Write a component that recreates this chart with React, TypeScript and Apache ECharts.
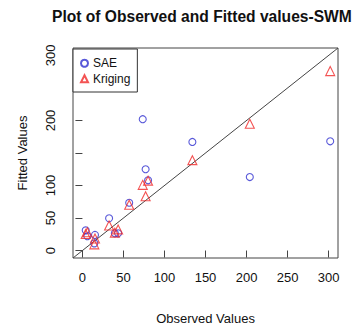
import React, { useEffect, useRef } from "react";
import * as echarts from "echarts";

const observed = [302, 204, 134, 73.5, 77, 80, 57, 32.5, 4, 6, 15.3, 14.5, 39.5, 43.5];
const saeFitted = [168, 113, 167, 202, 125, 108, 73.5, 49.5, 31, 22, 24, 11, 26.5, 26.5];
const krigingFitted = [276, 195, 139, 101, 83.5, 107.5, 70.5, 38.5, 25.5, 28, 18.5, 9.5, 27.5, 32.5];
const tickValues = [0, 50, 100, 150, 200, 250, 300];
const xLabelValues = [0, 50, 100, 150, 200, 250, 300];
const yLabelValues = [0, 50, 100, 200, 300];
const axisMin = -11.5;
const axisMax = 311.5;

const FONT = "Liberation Sans, Arial, sans-serif";

export default function App() {
  const ref = useRef<HTMLDivElement>(null);
  useEffect(() => {
    if (!ref.current) return;
    const chart = echarts.init(ref.current, null, { renderer: "svg" });
    const sae = observed.map((x, i) => [x, saeFitted[i]]);
    const krig = observed.map((x, i) => [x, krigingFitted[i]]);
    chart.setOption({
      animation: false,
      backgroundColor: "#ffffff",
      textStyle: { fontFamily: FONT },
      title: {
        text: "Plot of Observed and Fitted values-SWM",
        left: 52,
        top: 8,
        padding: 0,
        textStyle: { fontFamily: FONT, fontSize: 15.6, fontWeight: "bold", color: "#111" },
      },
      legend: {
        orient: "vertical",
        left: 73,
        top: 49,
        padding: [8, 7, 7, 7],
        itemWidth: 7,
        itemHeight: 7,
        itemGap: 3,
        itemTextGap: 8,
        borderColor: "#333",
        borderWidth: 1,
        backgroundColor: "#fff",
        borderRadius: 0,
        textStyle: { fontFamily: FONT, fontSize: 12, color: "#111", lineHeight: 12.5 },
        data: ["SAE", "Kriging"],
      },
      grid: {
        left: 73,
        top: 48,
        width: 265,
        height: 215,
        show: true,
        borderColor: "#444",
        borderWidth: 1,
        containLabel: false,
      },
      xAxis: {
        type: "value",
        min: axisMin,
        max: axisMax,
        name: "Observed Values",
        nameLocation: "middle",
        nameGap: 54,
        nameTextStyle: { fontFamily: FONT, fontSize: 13, color: "#111" },
        axisLine: { show: false },
        splitLine: { show: false },
        axisTick: {
          show: true,
          length: 7,
          inside: false,
          customValues: tickValues,
          lineStyle: { color: "#444" },
        },
        axisLabel: {
          customValues: xLabelValues,
          margin: 12.5,
          fontFamily: FONT,
          fontSize: 13,
          color: "#111",
        },
      },
      yAxis: {
        type: "value",
        min: axisMin,
        max: axisMax,
        name: "Fitted Values",
        nameLocation: "middle",
        nameGap: 44,
        nameTextStyle: { fontFamily: FONT, fontSize: 13, color: "#111" },
        axisLine: { show: false },
        splitLine: { show: false },
        axisTick: {
          show: true,
          length: 7,
          inside: false,
          customValues: tickValues,
          lineStyle: { color: "#444" },
        },
        axisLabel: {
          customValues: yLabelValues,
          rotate: 90,
          margin: 16,
          fontFamily: FONT,
          fontSize: 13,
          color: "#111",
        },
      },
      series: [
        {
          name: "ref",
          type: "line",
          data: [
            [axisMin, axisMin],
            [axisMax, axisMax],
          ],
          symbol: "none",
          lineStyle: { color: "#444", width: 1 },
          silent: true,
          z: 1,
        },
        {
          name: "SAE",
          type: "scatter",
          data: sae,
          symbol: "circle",
          symbolSize: 7,
          itemStyle: { color: "rgba(0,0,0,0)", borderColor: "#2f2fd0", borderWidth: 1.1 },
          z: 3,
        },
        {
          name: "Kriging",
          type: "scatter",
          data: krig,
          symbol: "triangle",
          symbolSize: 9,
          itemStyle: { color: "rgba(0,0,0,0)", borderColor: "#f02828", borderWidth: 1.1 },
          z: 4,
        },
      ],
    });
    return () => chart.dispose();
  }, []);
  return (
    <div
      ref={ref}
      style={{ width: 357, height: 330, position: "fixed", left: 0, top: 0 }}
    />
  );
}
